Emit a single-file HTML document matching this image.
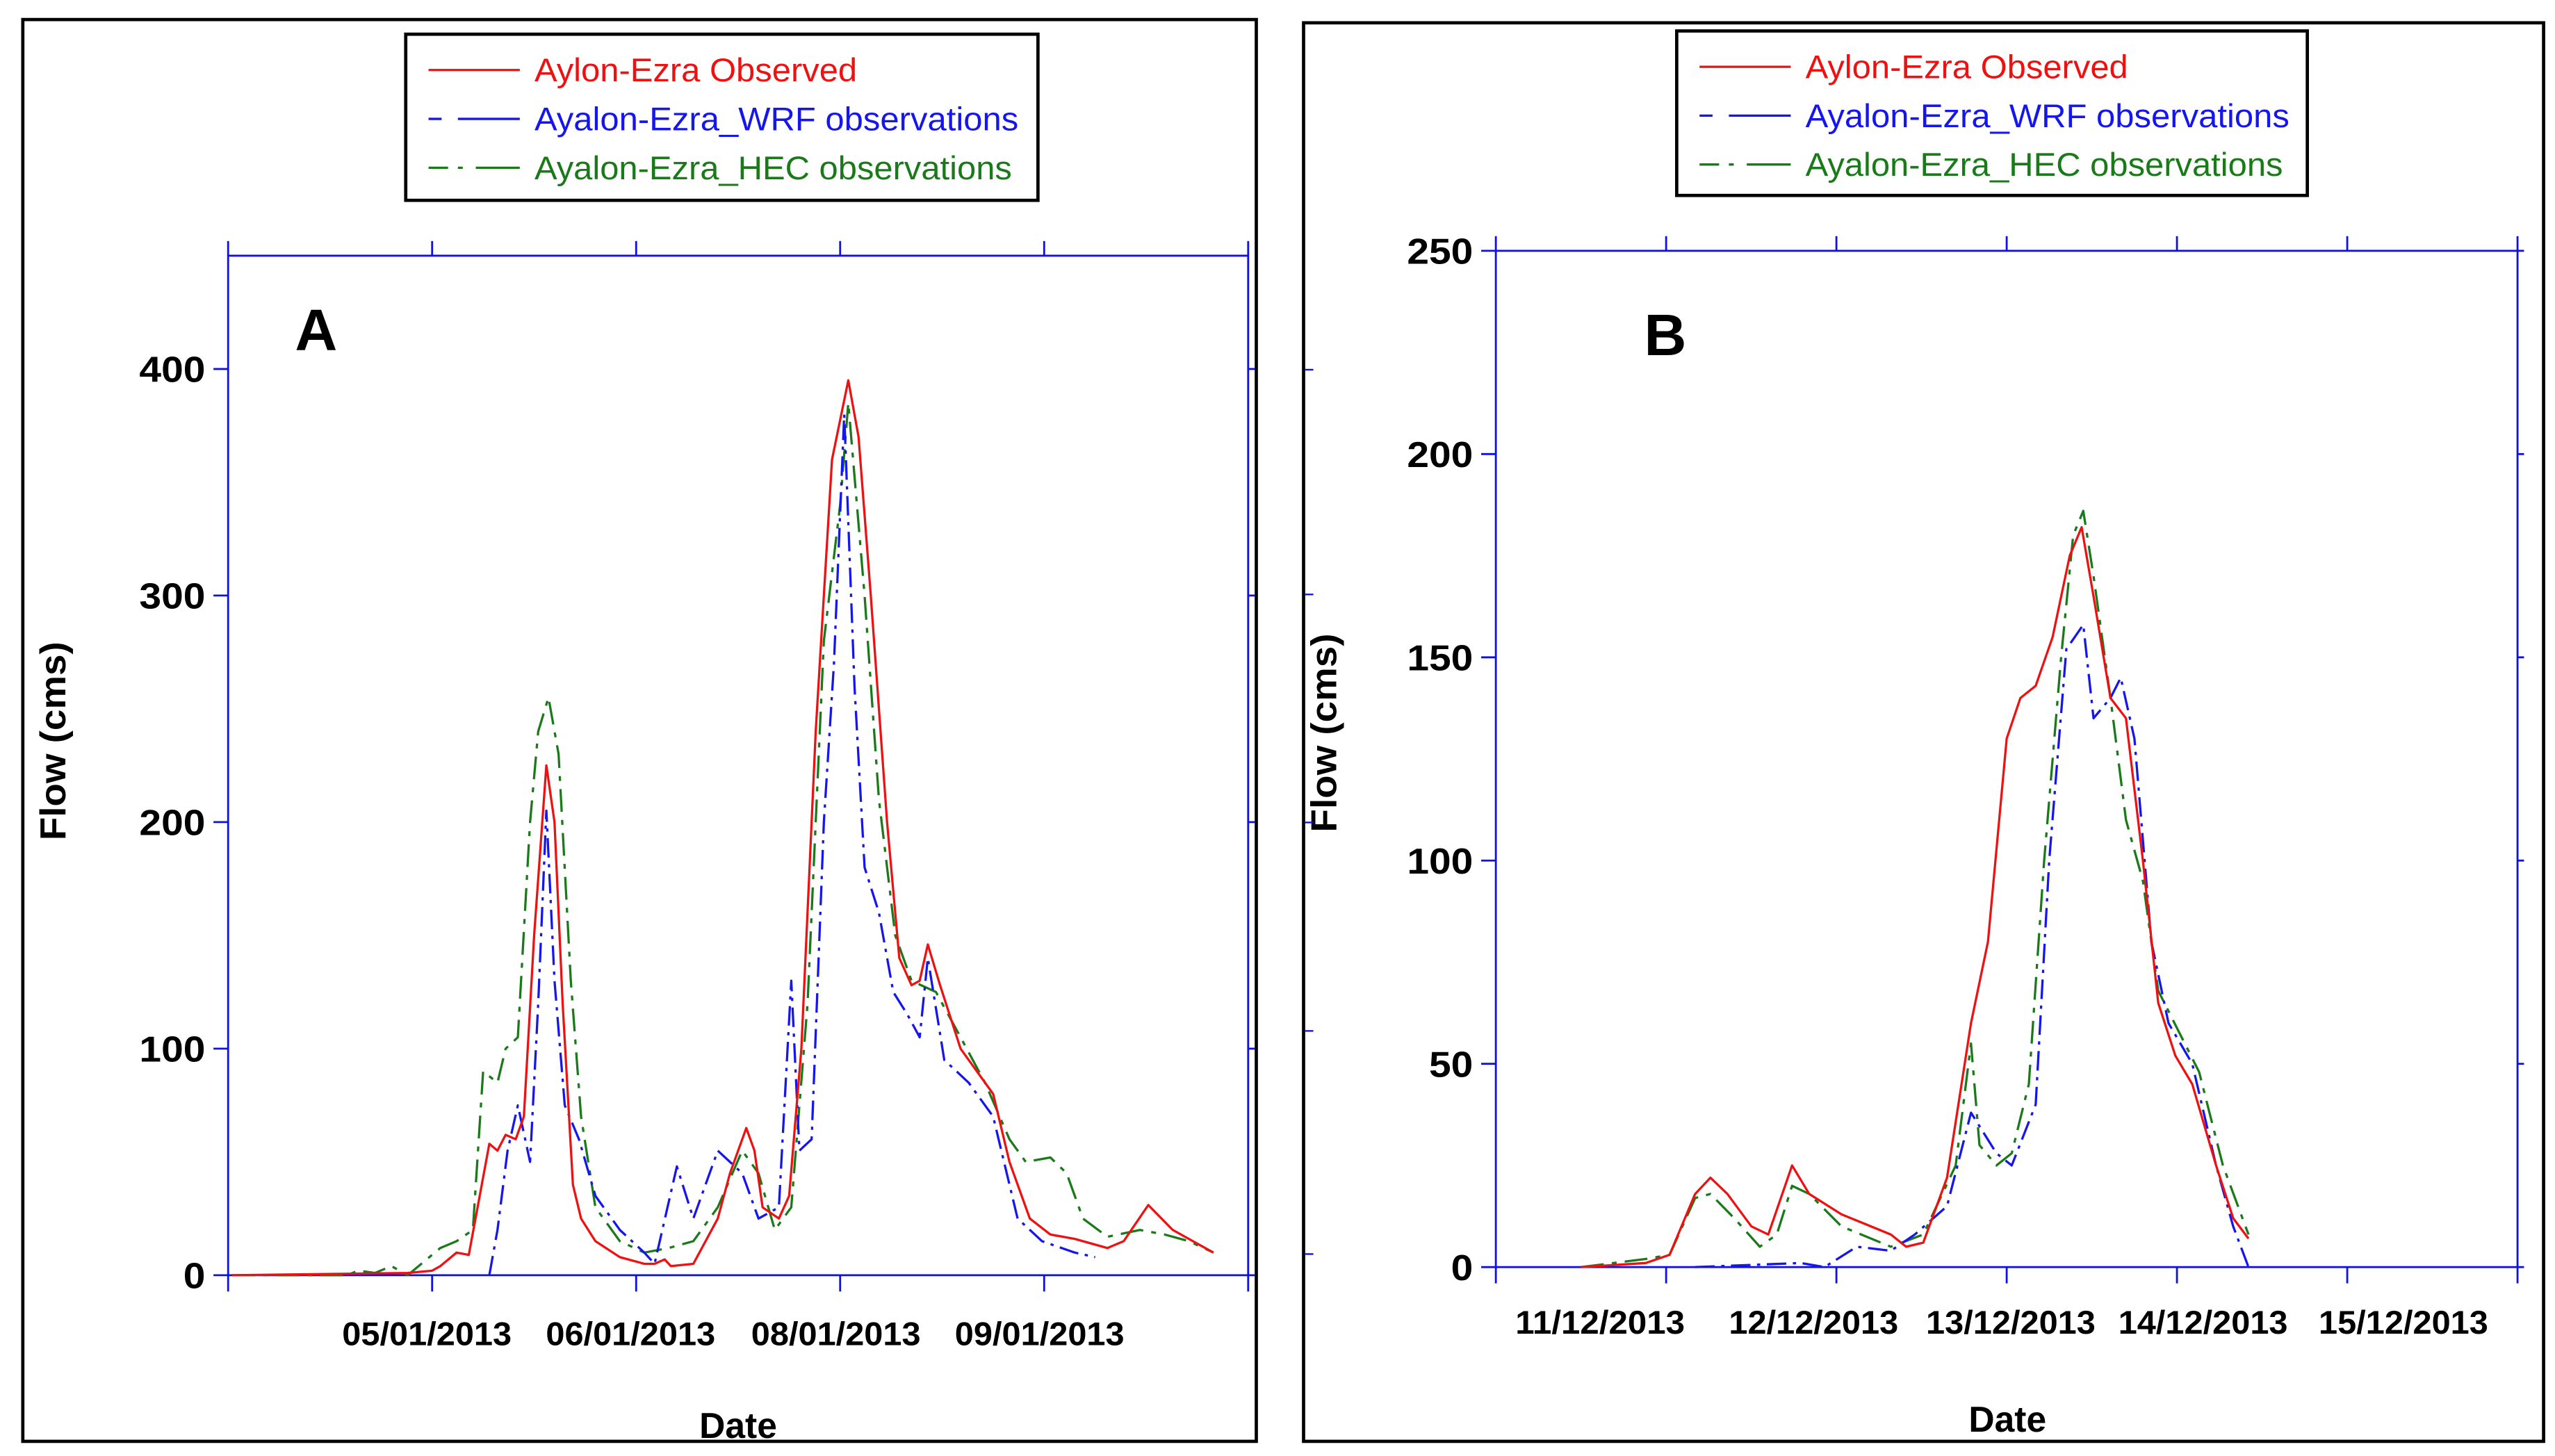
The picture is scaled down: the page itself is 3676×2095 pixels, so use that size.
<!DOCTYPE html>
<html><head><meta charset="utf-8"><style>
html,body{margin:0;padding:0;background:#fff;}
svg{display:block;}
text{font-family:"Liberation Sans",Arial,sans-serif;}
</style></head><body>
<svg id="fig" width="3676" height="2095" viewBox="0 0 1568 894" preserveAspectRatio="none" xmlns="http://www.w3.org/2000/svg">
<rect x="0" y="0" width="1568" height="894" fill="#fff"/>
<g id="panelA"></g>
<g id="panelB"></g>
</svg>
<script>
// ---- Panel A data (x in tick units 0..5) ----
const aTickLabels = ["", "05/01/2013", "06/01/2013", "08/01/2013", "09/01/2013", ""];
const aYTicks = [0, 100, 200, 300, 400];
const aObsX = [0.02,0.88,1.0,1.04,1.12,1.18,1.28,1.32,1.36,1.41,1.45,1.50,1.56,1.60,1.64,1.69,1.73,1.80,1.92,2.04,2.09,2.14,2.17,2.28,2.40,2.46,2.54,2.58,2.62,2.70,2.75,2.81,2.88,2.96,3.04,3.09,3.15,3.23,3.29,3.35,3.39,3.43,3.49,3.59,3.67,3.75,3.83,3.93,4.03,4.15,4.31,4.39,4.51,4.63,4.83];
const aObsY = [0,1,2,4,10,9,58,55,62,60,70,150,225,200,120,40,25,15,8,5,5,7,4,5,25,45,65,55,30,25,35,100,240,360,395,370,300,200,140,128,130,146,128,100,90,80,50,25,18,16,12,15,31,20,10];
const aWrfX = [1.28,1.32,1.37,1.42,1.48,1.52,1.56,1.60,1.65,1.72,1.80,1.92,2.04,2.09,2.20,2.28,2.40,2.52,2.60,2.70,2.76,2.80,2.86,2.92,2.97,3.02,3.07,3.12,3.19,3.26,3.33,3.39,3.43,3.51,3.63,3.75,3.87,3.99,4.15,4.25];
const aWrfY = [0,20,55,75,50,120,205,130,75,60,35,20,10,5,48,25,55,45,25,30,130,55,60,200,270,380,260,180,160,125,115,105,140,95,85,70,25,15,10,8];
const aHecX = [0.02,0.58,0.64,0.72,0.80,0.88,1.04,1.12,1.20,1.25,1.32,1.36,1.42,1.48,1.52,1.57,1.62,1.68,1.73,1.80,1.92,2.04,2.16,2.28,2.40,2.52,2.60,2.68,2.76,2.84,2.92,3.00,3.04,3.12,3.19,3.27,3.35,3.47,3.59,3.71,3.83,3.91,4.03,4.11,4.19,4.31,4.47,4.59,4.71,4.83];
const aHecY = [0,0,2,1,4,0,12,15,20,90,85,100,105,200,240,255,230,130,70,30,15,10,12,15,30,55,45,20,30,120,280,340,385,300,210,150,130,125,105,85,60,50,52,45,25,17,20,18,15,10];
// ---- Panel B data (x in tick units 0..6) ----
const bTickLabels = ["11/12/2013", "12/12/2013", "13/12/2013", "14/12/2013", "15/12/2013"];
const bYTicks = [0, 50, 100, 150, 200, 250];
const bObsX = [0.50,0.88,1.02,1.17,1.26,1.36,1.50,1.60,1.74,1.84,2.03,2.32,2.41,2.51,2.65,2.79,2.89,3.00,3.08,3.17,3.27,3.37,3.44,3.51,3.61,3.70,3.80,3.89,3.99,4.09,4.23,4.33,4.42];
const bObsY = [0,1,3,18,22,18,10,8,25,18,13,8,5,6,22,60,80,130,140,143,155,175,182,165,140,135,100,65,52,45,25,12,7];
const bWrfX = [1.17,1.79,1.93,2.12,2.32,2.46,2.65,2.79,2.94,3.03,3.17,3.25,3.35,3.45,3.51,3.61,3.67,3.75,3.85,3.95,4.09,4.23,4.33,4.42];
const bWrfY = [0,1,0,5,4,8,15,38,28,25,40,100,152,158,135,140,145,130,80,60,50,25,10,0];
const bHecX = [0.50,0.88,1.02,1.17,1.26,1.40,1.55,1.65,1.74,1.84,2.03,2.32,2.51,2.70,2.79,2.84,2.94,3.03,3.13,3.22,3.32,3.39,3.45,3.51,3.61,3.70,3.80,3.89,4.01,4.13,4.27,4.42];
const bHecY = [0,2,3,17,18,12,5,8,20,18,10,5,8,25,55,30,25,28,45,100,150,180,186,170,140,110,95,68,58,48,25,8];

const NS = "http://www.w3.org/2000/svg";
function mk(tag, attrs, parent, txt){
  const e = document.createElementNS(NS, tag);
  for (const k in attrs) e.setAttribute(k, attrs[k]);
  if (txt !== undefined) e.textContent = txt;
  parent.appendChild(e);
  return e;
}
const BLUE = "#1010e0";

function drawPanel(g, cfg){
  const sx = v => cfg.x0 + (v / cfg.xUnits) * (cfg.x1 - cfg.x0);
  const sy = v => cfg.y0 - (v / cfg.yMax) * (cfg.y0 - cfg.y1);
  const fr = mk("rect", {x:cfg.fx, y:cfg.fy, width:cfg.fw, height:cfg.fh, fill:"none", stroke:"#000", "stroke-width":2}, g);
  
  
  const ax = mk("g", {stroke:BLUE, "stroke-width":1.2, fill:"none"}, g);
  
  
  mk("rect", {x:cfg.x0, y:cfg.y1, width:cfg.x1-cfg.x0, height:cfg.y0-cfg.y1}, ax);
  for (let i = 0; i <= cfg.xUnits; i++){
    const x = sx(i);
    mk("line", {x1:x, y1:cfg.y0, x2:x, y2:cfg.y0+10}, ax);
    mk("line", {x1:x, y1:cfg.y1, x2:x, y2:cfg.y1-9}, ax);
  }
  cfg.yTicks.forEach(v => {
    const y = sy(v);
    mk("line", {x1:cfg.x0-9, y1:y, x2:cfg.x0, y2:y}, ax);
    mk("line", {x1:cfg.x1, y1:y, x2:cfg.x1+4, y2:y}, ax);
    const s = String(v);
    const t = mk("text", {x:cfg.x0-14, y:y+8, "text-anchor":"end", "font-size":22, "font-weight":"bold", fill:"#000", stroke:"none", textLength:s.length*13.5, lengthAdjust:"spacingAndGlyphs"}, g, s);
    
    
  });
  cfg.xLabels.forEach((lab, i) => {
    if (!lab) return;
    const t = mk("text", {x:cfg.labX[i], y:cfg.labY, "text-anchor":"middle", "font-size":20, "font-weight":"bold", fill:"#000", textLength:104, lengthAdjust:"spacingAndGlyphs"}, g, lab);
    
    
  });
  const yt = mk("text", {x:0, y:0, transform:`translate(${cfg.yTitleX},${cfg.yTitleY}) rotate(-90)`, "text-anchor":"middle", "font-size":22, "font-weight":"bold", fill:"#000", textLength:122, lengthAdjust:"spacingAndGlyphs"}, g, "Flow (cms)");
  
  
  const xt = mk("text", {x:cfg.xTitleX, y:cfg.xTitleY, "text-anchor":"middle", "font-size":22, "font-weight":"bold", fill:"#000"}, g, "Date");
  
  
  const pl = mk("text", {x:cfg.letterX, y:cfg.letterY, "font-size":36, "font-weight":"bold", fill:"#000"}, g, cfg.letter);
  
  
  const series = [
    {xs:cfg.hecX, ys:cfg.hecY, color:"#1a7a1a", dash:"14 5 3 5", name:"hec-series"},
    {xs:cfg.wrfX, ys:cfg.wrfY, color:"#1515ee", dash:"12 4 2 4", name:"wrf-series"},
    {xs:cfg.obsX, ys:cfg.obsY, color:"#ee1111", dash:"none", name:"observed-series"}
  ];
  series.forEach(s => {
    let d = "";
    s.xs.forEach((xv, i) => { d += (i ? "L" : "M") + sx(xv).toFixed(1) + "," + sy(s.ys[i]).toFixed(1); });
    const p = mk("path", {d:d, fill:"none", stroke:s.color, "stroke-width":1.4, "stroke-dasharray":s.dash, "stroke-linejoin":"round"}, g);
    
    
  });
  const lg = mk("g", {}, g);
  
  
  mk("rect", {x:cfg.lx, y:cfg.ly, width:cfg.lw, height:cfg.lh, fill:"#fff", stroke:"#000", "stroke-width":2}, lg);
  const entries = [
    ["Aylon-Ezra Observed", "#ee1111", "none", 198],
    ["Ayalon-Ezra_WRF observations", "#1515ee", "8 10 30 0", 297],
    ["Ayalon-Ezra_HEC observations", "#1a7a1a", "12 6 3 8 30 0", 293]
  ];
  entries.forEach((e, i) => {
    const y = cfg.ly + 22 + i * 30;
    const le = mk("g", {}, lg);
    
    
    mk("line", {x1:cfg.lx+14, y1:y, x2:cfg.lx+70, y2:y, stroke:e[1], "stroke-width":1.4, "stroke-dasharray":e[2]}, le);
    mk("text", {x:cfg.lx+79, y:y+7, "font-size":20, fill:e[1], textLength:e[3], lengthAdjust:"spacingAndGlyphs"}, le, e[0]);
  });
}

drawPanel(document.getElementById("panelA"), {
  fx:14, fy:12, fw:757, fh:873,
  x0:140, x1:766, y0:783, y1:157, xUnits:5, yMax:450,
  yTicks:aYTicks, xLabels:aTickLabels, labX:[0,262,387,513,638,0], labY:826,
  yTitleX:40, yTitleY:455, xTitleX:453, xTitleY:883,
  letter:"A", letterX:181, letterY:215,
  obsX:aObsX, obsY:aObsY, wrfX:aWrfX, wrfY:aWrfY, hecX:aHecX, hecY:aHecY,
  lx:249, ly:21, lw:388, lh:102
});
drawPanel(document.getElementById("panelB"), {
  fx:800, fy:14, fw:761, fh:871,
  x0:918, x1:1545, y0:778, y1:154, xUnits:6, yMax:250,
  yTicks:bYTicks, xLabels:bTickLabels, labX:[982,1113,1234,1352,1475], labY:819,
  yTitleX:820, yTitleY:450, xTitleX:1232, xTitleY:879,
  letter:"B", letterX:1009, letterY:218,
  obsX:bObsX, obsY:bObsY, wrfX:bWrfX, wrfY:bWrfY, hecX:bHecX, hecY:bHecY,
  lx:1029, ly:19, lw:387, lh:101
});
const fig = document.getElementById("fig");
[227,365,505,633,770].forEach(y => {
  const l = mk("line", {x1:801, y1:y, x2:806, y2:y, stroke:BLUE, "stroke-width":1}, fig);
  
  
});
</script>
</body></html>
